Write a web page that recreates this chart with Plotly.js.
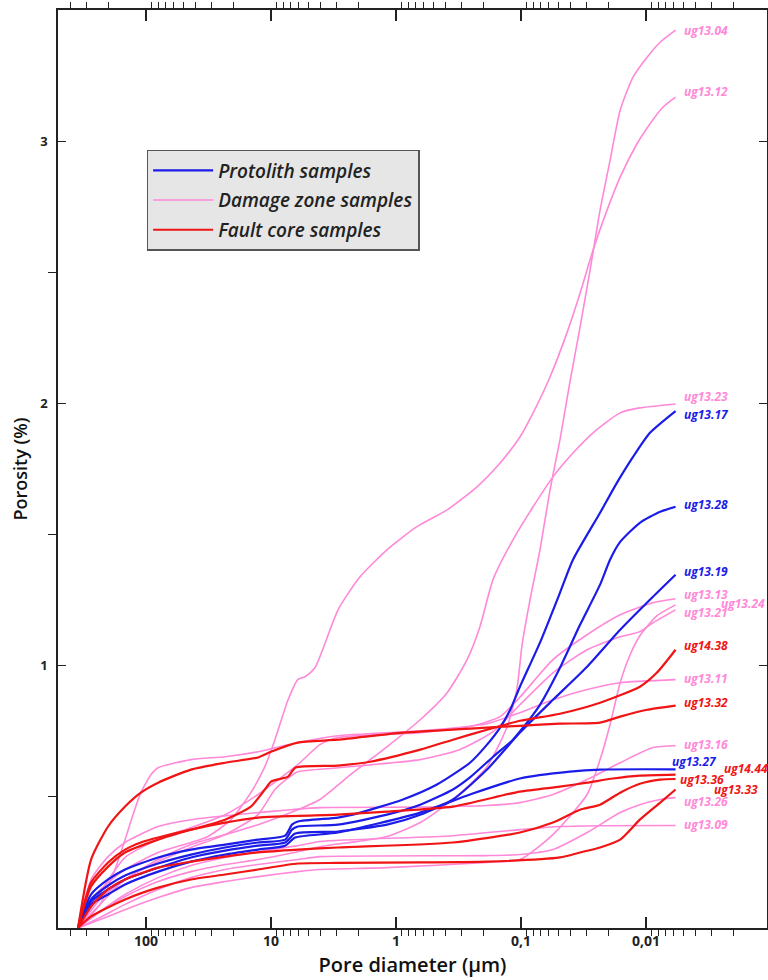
<!DOCTYPE html>
<html><head><meta charset="utf-8">
<script src="https://cdn.plot.ly/plotly-3.0.1.min.js"></script>
<style>html,body{margin:0;padding:0;background:#fff}</style>
</head><body><div id="chart" style="width:768px;height:980px"></div>
<script>
// ---- Data: pore diameter (µm) and cumulative porosity (%) per sample ----
// Protolith
const ug13_17_d = [350, 275, 201, 147, 80, 43.6, 23.3, 12.7, 7.7, 6.8, 6.1, 2.91, 2.21, 0.88, 0.47, 0.256, 0.187, 0.147, 0.122, 0.102, 0.0705, 0.0488, 0.0384, 0.0233, 0.0171, 0.0127, 0.0093, 0.0058];
const ug13_17_p = [0, 0.128, 0.185, 0.223, 0.269, 0.299, 0.318, 0.337, 0.352, 0.394, 0.406, 0.421, 0.432, 0.49, 0.547, 0.63, 0.699, 0.764, 0.832, 0.92, 1.088, 1.278, 1.404, 1.583, 1.697, 1.796, 1.888, 1.971];
const ug13_28_d = [350, 275, 201, 147, 80, 43.6, 23.3, 12.7, 7.7, 6.8, 6.1, 2.91, 1.18, 0.64, 0.35, 0.256, 0.167, 0.116, 0.102, 0.0705, 0.0488, 0.0337, 0.0233, 0.0194, 0.0161, 0.0112, 0.0077, 0.0058];
const ug13_28_p = [0, 0.109, 0.162, 0.2, 0.246, 0.28, 0.307, 0.326, 0.337, 0.375, 0.387, 0.394, 0.432, 0.47, 0.528, 0.574, 0.653, 0.718, 0.749, 0.851, 0.992, 1.156, 1.309, 1.404, 1.472, 1.545, 1.587, 1.606];
const ug13_19_d = [350, 275, 201, 147, 80, 43.6, 23.3, 12.7, 7.7, 6.4, 2.91, 1.18, 0.64, 0.35, 0.187, 0.102, 0.0555, 0.0296, 0.0161, 0.0088, 0.0058];
const ug13_19_p = [0, 0.101, 0.147, 0.185, 0.23, 0.269, 0.295, 0.314, 0.326, 0.36, 0.368, 0.394, 0.432, 0.49, 0.604, 0.745, 0.87, 0.996, 1.137, 1.263, 1.347];
const ug13_27_d = [350, 275, 201, 147, 80, 43.6, 23.3, 12.7, 7.7, 6.4, 2.91, 0.64, 0.256, 0.102, 0.0406, 0.0233, 0.0058];
const ug13_27_p = [0, 0.09, 0.128, 0.166, 0.215, 0.253, 0.28, 0.299, 0.314, 0.345, 0.364, 0.44, 0.509, 0.57, 0.596, 0.604, 0.605];
// Damage zone
const ug13_04_d = [350, 233, 147, 80, 43.6, 23.3, 12.7, 6.1, 4.06, 1.18, 0.64, 0.35, 0.187, 0.129, 0.108, 0.098, 0.0847, 0.0705, 0.0586, 0.0488, 0.0406, 0.0337, 0.028, 0.0233, 0.0194, 0.0161, 0.0127, 0.0098, 0.0077, 0.0058];
const ug13_04_p = [0, 0.063, 0.12, 0.177, 0.215, 0.242, 0.261, 0.291, 0.31, 0.349, 0.402, 0.49, 0.615, 0.768, 0.909, 1.08, 1.251, 1.442, 1.67, 1.861, 2.082, 2.291, 2.509, 2.737, 2.926, 3.118, 3.244, 3.32, 3.377, 3.423];
const ug13_12_d = [350, 275, 201, 147, 80, 43.6, 31.9, 20.9, 14.5, 11.2, 9.3, 7.3, 6.1, 5.35, 4.45, 2.91, 1.94, 1.18, 0.68, 0.39, 0.225, 0.147, 0.102, 0.080, 0.0586, 0.0429, 0.0337, 0.0265, 0.0205, 0.0161, 0.0118, 0.0098, 0.0073, 0.0058];
const ug13_12_p = [0, 0.109, 0.173, 0.223, 0.288, 0.326, 0.349, 0.413, 0.516, 0.615, 0.718, 0.87, 0.947, 0.958, 0.992, 1.213, 1.339, 1.442, 1.53, 1.594, 1.682, 1.773, 1.872, 1.964, 2.101, 2.269, 2.42, 2.585, 2.737, 2.863, 2.99, 3.05, 3.13, 3.168];
const ug13_23_d = [350, 233, 147, 80, 43.6, 23.3, 12.7, 6.1, 4.06, 2.21, 1.18, 0.64, 0.39, 0.27, 0.213, 0.167, 0.116, 0.080, 0.0555, 0.0384, 0.0265, 0.0161, 0.0112, 0.0058];
const ug13_23_p = [0, 0.109, 0.185, 0.261, 0.318, 0.356, 0.394, 0.451, 0.49, 0.592, 0.691, 0.794, 0.897, 1.023, 1.149, 1.33, 1.48, 1.606, 1.72, 1.811, 1.888, 1.964, 1.983, 1.998];
const ug13_13_d = [350, 233, 147, 80, 43.6, 23.3, 12.7, 6.1, 4.06, 2.91, 0.64, 0.256, 0.147, 0.102, 0.0555, 0.0296, 0.0161, 0.0088, 0.0058];
const ug13_13_p = [0, 0.135, 0.269, 0.337, 0.383, 0.432, 0.509, 0.623, 0.699, 0.726, 0.745, 0.768, 0.806, 0.88, 1.023, 1.118, 1.194, 1.24, 1.255];
const ug13_24_d = [350, 233, 147, 80, 43.6, 23.3, 12.7, 6.1, 4.06, 1.18, 0.187, 0.102, 0.0555, 0.0296, 0.0233, 0.0194, 0.0161, 0.0134, 0.0112, 0.0082, 0.0058];
const ug13_24_p = [0, 0.032, 0.07, 0.116, 0.154, 0.177, 0.196, 0.215, 0.223, 0.23, 0.25, 0.261, 0.356, 0.509, 0.642, 0.775, 0.935, 1.042, 1.114, 1.19, 1.232];
const ug13_21_d = [350, 233, 147, 80, 43.6, 23.3, 12.7, 9.3, 7.05, 6.1, 2.91, 0.64, 0.31, 0.167, 0.102, 0.0555, 0.0296, 0.0161, 0.0112, 0.0088, 0.0058];
const ug13_21_p = [0, 0.09, 0.185, 0.253, 0.307, 0.356, 0.432, 0.528, 0.577, 0.596, 0.611, 0.642, 0.68, 0.749, 0.851, 0.973, 1.061, 1.11, 1.13, 1.164, 1.213];
const ug13_11_d = [350, 233, 177, 147, 127, 110, 91, 80, 43.6, 23.3, 12.7, 6.1, 2.91, 0.64, 0.187, 0.102, 0.0555, 0.0296, 0.0161, 0.0058];
const ug13_11_p = [0, 0.09, 0.223, 0.337, 0.432, 0.516, 0.585, 0.611, 0.642, 0.653, 0.672, 0.707, 0.733, 0.752, 0.779, 0.821, 0.87, 0.909, 0.935, 0.947];
const ug13_16_d = [350, 275, 201, 147, 80, 43.6, 12.7, 6.9, 4.06, 0.64, 0.187, 0.102, 0.0555, 0.0296, 0.0161, 0.0088, 0.0058];
const ug13_16_p = [0, 0.185, 0.272, 0.326, 0.387, 0.413, 0.44, 0.451, 0.459, 0.461, 0.467, 0.478, 0.509, 0.566, 0.63, 0.688, 0.695];
const ug13_26_d = [350, 233, 147, 80, 43.6, 23.3, 12.7, 6.1, 4.06, 0.187, 0.102, 0.0555, 0.0296, 0.0161, 0.0112, 0.0077, 0.0058];
const ug13_26_p = [0, 0.04, 0.09, 0.147, 0.192, 0.223, 0.242, 0.261, 0.272, 0.276, 0.28, 0.299, 0.364, 0.44, 0.47, 0.49, 0.497];
const ug13_09_d = [350, 233, 147, 80, 43.6, 23.3, 12.7, 6.1, 4.06, 0.35, 0.102, 0.0488, 0.0233, 0.0058];
const ug13_09_p = [0, 0.063, 0.128, 0.192, 0.238, 0.269, 0.291, 0.314, 0.33, 0.352, 0.375, 0.387, 0.39, 0.391];
// Fault core
const ug14_38_d = [350, 275, 201, 147, 80, 43.6, 23.3, 14.5, 11.2, 10, 7.3, 6.4, 2.91, 1.61, 0.64, 0.35, 0.187, 0.102, 0.0488, 0.0233, 0.0112, 0.0082, 0.0058];
const ug14_38_p = [0, 0.158, 0.234, 0.288, 0.337, 0.375, 0.413, 0.463, 0.528, 0.558, 0.577, 0.611, 0.619, 0.634, 0.68, 0.718, 0.756, 0.79, 0.817, 0.859, 0.92, 0.973, 1.061];
const ug13_32_d = [350, 275, 201, 147, 110, 80, 43.6, 23.3, 12.7, 10, 6.1, 2.91, 0.88, 0.187, 0.102, 0.0488, 0.0233, 0.0161, 0.0098, 0.0058];
const ug13_32_p = [0, 0.261, 0.387, 0.463, 0.516, 0.554, 0.604, 0.63, 0.65, 0.672, 0.707, 0.718, 0.745, 0.764, 0.771, 0.779, 0.783, 0.806, 0.832, 0.848];
const ug14_44_d = [350, 275, 201, 147, 110, 80, 43.6, 23.3, 12.7, 2.91, 1.18, 0.35, 0.102, 0.0488, 0.0296, 0.0184, 0.0112, 0.0058];
const ug14_44_p = [0, 0.173, 0.25, 0.299, 0.326, 0.345, 0.375, 0.402, 0.421, 0.432, 0.444, 0.463, 0.52, 0.539, 0.554, 0.57, 0.581, 0.585];
const ug13_36_d = [350, 275, 201, 147, 80, 43.6, 23.3, 12.7, 6.1, 2.91, 0.35, 0.102, 0.0555, 0.0337, 0.0233, 0.0161, 0.0112, 0.0077, 0.0058];
const ug13_36_p = [0, 0.082, 0.147, 0.185, 0.23, 0.253, 0.272, 0.288, 0.299, 0.307, 0.326, 0.364, 0.402, 0.451, 0.47, 0.516, 0.55, 0.566, 0.568];
const ug13_33_d = [350, 275, 147, 80, 43.6, 23.3, 12.7, 6.1, 2.91, 0.64, 0.187, 0.0488, 0.0337, 0.0233, 0.0161, 0.0112, 0.0077, 0.0058];
const ug13_33_p = [0, 0.044, 0.109, 0.154, 0.185, 0.204, 0.223, 0.246, 0.248, 0.25, 0.253, 0.269, 0.288, 0.307, 0.337, 0.413, 0.478, 0.528];

// Axis ticks
const xTickVals = [100, 10, 1, 0.1, 0.01];
const xTickText = ['100', '10', '1', '0,1', '0,01'];
const yTickVals = [1, 2, 3];
const yMinorVals = [0.5, 1.5, 2.5];
const groupNames = {proto: 'Protolith samples', damage: 'Damage zone samples', fault: 'Fault core samples'};

// ---- Styles ----
const FONT = 'Open Sans, Liberation Sans, Arial, sans-serif';
const style = {
  proto:  {line: '#1c1ce8', text: '#1c1ce8', width: 2.2, rank: 1},
  damage: {line: '#ff88d8', text: '#ff88d8', width: 1.6, rank: 2},
  fault:  {line: '#f01414', text: '#f01414', width: 2.2, rank: 3}
};
// sample, group, label offset from curve end (px)
const samples = [
  ['ug13.04', 'damage', ug13_04_d, ug13_04_p, 7, 0],
  ['ug13.12', 'damage', ug13_12_d, ug13_12_p, 7, 6],
  ['ug13.23', 'damage', ug13_23_d, ug13_23_p, 7, 7],
  ['ug13.13', 'damage', ug13_13_d, ug13_13_p, 7, 4],
  ['ug13.24', 'damage', ug13_24_d, ug13_24_p, 44, 1],
  ['ug13.21', 'damage', ug13_21_d, ug13_21_p, 7, -3],
  ['ug13.11', 'damage', ug13_11_d, ug13_11_p, 7, 1],
  ['ug13.16', 'damage', ug13_16_d, ug13_16_p, 7, 1],
  ['ug13.26', 'damage', ug13_26_d, ug13_26_p, 7, -4],
  ['ug13.09', 'damage', ug13_09_d, ug13_09_p, 7, 1],
  ['ug13.17', 'proto', ug13_17_d, ug13_17_p, 7, -3],
  ['ug13.28', 'proto', ug13_28_d, ug13_28_p, 7, 2],
  ['ug13.19', 'proto', ug13_19_d, ug13_19_p, 7, 3],
  ['ug13.27', 'proto', ug13_27_d, ug13_27_p, -5, 8],
  ['ug14.38', 'fault', ug14_38_d, ug14_38_p, 7, 4],
  ['ug13.32', 'fault', ug13_32_d, ug13_32_p, 7, 3],
  ['ug14.44', 'fault', ug14_44_d, ug14_44_p, 47, 6],
  ['ug13.36', 'fault', ug13_36_d, ug13_36_p, 3, 0],
  ['ug13.33', 'fault', ug13_33_d, ug13_33_p, 37, 0]
];

const seen = {};
const traces = samples.map(s => {
  const g = s[1];
  const first = !seen[g]; seen[g] = true;
  return {
    type: 'scatter', mode: 'lines', x: s[2], y: s[3], name: groupNames[g],
    legendgroup: g, showlegend: first, legendrank: style[g].rank,
    line: {color: style[g].line, width: style[g].width, shape: 'spline', smoothing: 0.6},
    hoverinfo: 'skip'
  };
});

const annotations = samples.map(s => {
  const g = s[1], d = s[2], p = s[3];
  return {
    x: Math.log10(d[d.length - 1]), y: p[p.length - 1], xref: 'x', yref: 'y',
    text: s[0], showarrow: false, xanchor: 'left', yanchor: 'middle',
    xshift: s[4], yshift: s[5], borderpad: 0,
    font: {family: FONT, size: 12, color: style[g].text, style: 'italic', weight: 700}
  };
});

// minor tick positions (2..9 in each decade)
const xMinor = [];
for (let e = -3; e <= 2; e++) for (let m = 2; m <= 9; m++) xMinor.push(m * Math.pow(10, e));

const layout = {
  width: 768, height: 980,
  margin: {l: 58, r: 1, t: 10, b: 52},
  paper_bgcolor: '#fff', plot_bgcolor: '#fff',
  showlegend: true,
  legend: {
    x: 0.125, y: 0.8475, xanchor: 'left', yanchor: 'top',
    bgcolor: '#e6e6e6', bordercolor: '#555', borderwidth: 1.5,
    font: {family: FONT, size: 19, color: '#222', style: 'italic', weight: 600},
    tracegroupgap: 2, itemwidth: 60, traceorder: 'grouped'
  },
  xaxis: {
    type: 'log', range: [2.704, -2.968],
    showline: true, linecolor: '#222', linewidth: 1.6, mirror: 'ticks',
    ticks: 'inside', ticklen: 11, tickwidth: 1.2, tickcolor: '#222',
    tickmode: 'array', tickvals: xTickVals, ticktext: xTickText,
    tickfont: {family: FONT, size: 14, color: '#222', weight: 700},
    minor: {tickmode: 'array', tickvals: xMinor, ticklen: 6, tickwidth: 1, tickcolor: '#222'},
    showgrid: false, zeroline: false,
    title: {text: 'Pore diameter (µm)', font: {family: FONT, size: 20, color: '#111', weight: 600}, standoff: 8}
  },
  yaxis: {
    range: [0, 3.5],
    showline: true, linecolor: '#222', linewidth: 1.6, mirror: 'ticks',
    ticks: 'inside', ticklen: 8, tickwidth: 1.2, tickcolor: '#222',
    tickmode: 'array', tickvals: yTickVals, ticktext: yTickVals.map(String),
    tickfont: {family: FONT, size: 13, color: '#222', weight: 700},
    minor: {tickmode: 'array', tickvals: yMinorVals, ticklen: 8, tickwidth: 1, tickcolor: '#222'},
    showgrid: false, zeroline: false, ticklabelstandoff: 6,
    title: {text: 'Porosity (%)', font: {family: FONT, size: 18, color: '#111', weight: 600}, standoff: 8}
  },
  annotations: annotations
};

Plotly.newPlot('chart', traces, layout, {displayModeBar: false, staticPlot: true});
</script></body></html>
